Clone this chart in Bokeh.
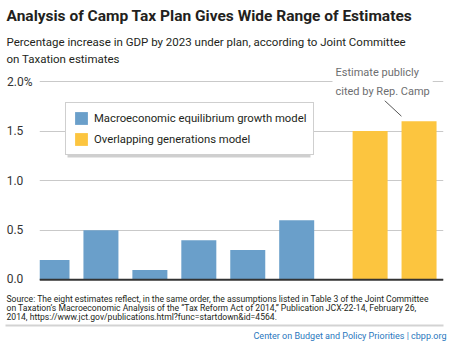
from bokeh.plotting import figure
from bokeh.layouts import column
from bokeh.models import ColumnDataSource, Label, Span, Range1d, FixedTicker, Legend, LegendItem, BoxAnnotation
from bokeh.embed import file_html
from bokeh.resources import INLINE

# ---- data ----
macro_values = [0.2, 0.5, 0.1, 0.4, 0.3, 0.6]
olg_values = [1.5, 1.6]
macro_label = "Macroeconomic equilibrium growth model"
olg_label = "Overlapping generations model"
y_ticks = [0.0, 0.5, 1.0, 1.5, 2.0]
y_tick_labels = ["0.0", "0.5", "1.0", "1.5", "2.0%"]

title_text = "Analysis of Camp Tax Plan Gives Wide Range of Estimates"
subtitle_lines = ["Percentage increase in GDP by 2023 under plan, according to Joint Committee",
                  "on Taxation estimates"]
note_text = "Estimate publicly\ncited by Rep. Camp"
source_lines = [
    "Source: The eight estimates reflect, in the same order, the assumptions listed in Table 3 of the Joint Committee",
    "on Taxation\u2019s Macroeconomic Analysis of the \u201cTax Reform Act of 2014,\u201d Publication JCX-22-14, February 26,",
    "2014, https://www.jct.gov/publications.html?func=startdown&id=4564.",
]
footer_text = "Center on Budget and Policy Priorities | cbpp.org"

# ---- layout constants (pixels) ----
W = 450
HEAD_H = 66
CHART_TOP, CHART_BOT = 66, 285
Y0_PX, Y2_PX = 279.3, 81.0          # canvas y of value 0 and of top tick
X_FIRST_PX, PPX = 51.5, 48.94       # canvas x of first bar centre, px per slot
FL, FR = 39, 443                    # frame left/right
PPU = (Y0_PX - Y2_PX) / (y_ticks[-1] - y_ticks[0])
FONT = "Roboto"
BLUE = "#6a9fca"
YELLOW = "#fcc53f"
DARK = "#231f20"
BASE_SHIFT = 0.33                   # empirical baseline correction (em)


def dx(cx):
    return (cx - X_FIRST_PX) / PPX


def dy(cy):
    return (Y0_PX - cy) / PPU


def text_fig(top, bottom):
    f = figure(width=W, height=bottom - top, output_backend="svg", toolbar_location=None,
               x_range=Range1d(0, W), y_range=Range1d(bottom, top),
               x_axis_location=None, y_axis_location=None,
               min_border_left=0, min_border_right=0, min_border_top=0, min_border_bottom=0,
               frame_align=False)
    f.grid.visible = False
    f.outline_line_color = None
    f.background_fill_color = "white"
    f.border_fill_color = "white"
    return f


def put(fig, x, baseline, text, size, **kw):
    fig.add_layout(Label(x=x, y=baseline - BASE_SHIFT * size, text=text, text_font=FONT,
                         text_font_size=f"{size}px", text_baseline="alphabetic", **kw))


# ---- header ----
head = text_fig(0, HEAD_H)
put(head, 6, 20.5, title_text, 15.5, text_font_style="bold", text_color=DARK)
for i, line in enumerate(subtitle_lines):
    put(head, 6, 45.5 + 16.5 * i, line, 11.5, text_color=DARK)

# ---- chart ----
macro_x = [i for i in range(len(macro_values))]
olg_x = [len(macro_values) + 0.5 + i for i in range(len(olg_values))]

p = figure(width=W, height=CHART_BOT - CHART_TOP, output_backend="svg", toolbar_location=None,
           x_range=Range1d(dx(FL), dx(FR)), y_range=Range1d(dy(CHART_BOT), dy(CHART_TOP)),
           x_axis_location=None, frame_align=False,
           min_border_left=FL, min_border_right=W - FR, min_border_top=0, min_border_bottom=0)
p.outline_line_color = None
p.background_fill_color = "white"
p.border_fill_color = "white"
p.xgrid.visible = False
p.ygrid.grid_line_color = "#c9c9c9"
p.ygrid.grid_line_width = 1
p.ygrid.ticker = FixedTicker(ticks=y_ticks)

yax = p.yaxis[0]
yax.ticker = FixedTicker(ticks=y_ticks)
pad = "\u2007\u2009"
yax.major_label_overrides = {t: (l if l.endswith("%") else l + pad) for t, l in zip(y_ticks, y_tick_labels)}
yax.axis_line_color = None
yax.major_tick_line_color = None
yax.minor_tick_line_color = None
yax.major_tick_out = 0
yax.major_tick_in = 0
yax.major_label_standoff = 7
yax.major_label_text_font = FONT
yax.major_label_text_font_size = "12px"
yax.major_label_text_color = "#333333"

src_m = ColumnDataSource(dict(x=macro_x, top=macro_values))
src_o = ColumnDataSource(dict(x=olg_x, top=olg_values))
BAR_W = 35 / PPX
r_m = p.vbar(x="x", top="top", bottom=0, width=BAR_W, source=src_m, fill_color=BLUE, line_color=None)
r_o = p.vbar(x="x", top="top", bottom=0, width=BAR_W, source=src_o, fill_color=YELLOW, line_color=None)

p.add_layout(Span(location=0, dimension="width", line_color="#333333", line_width=2))

# legend shadow + legend
p.add_layout(BoxAnnotation(left=dx(67), right=dx(310), top=dy(105), bottom=dy(157),
                           fill_color="#cfcfcf", fill_alpha=1.0, line_color=None))
legend = Legend(items=[LegendItem(label=macro_label, renderers=[r_m]),
                       LegendItem(label=olg_label, renderers=[r_o])],
                location=(65 - FL, CHART_BOT - 155), orientation="vertical",
                glyph_width=16, glyph_height=16, label_height=16, label_width=10,
                spacing=5, padding=7, margin=0, label_standoff=5,
                label_text_font=FONT, label_text_font_size="11.3px", label_text_color=DARK,
                border_line_color="#a0a0a0", border_line_width=1,
                background_fill_color="white", background_fill_alpha=1.0)
p.add_layout(legend, "center")

# annotation (label box top at canvas y 62.5)
p.add_layout(Label(x=332 - FL, y=CHART_BOT - 62.5, x_units="screen", y_units="screen",
                   text=note_text, text_font=FONT, text_font_size="11px", text_color="#6d6e70",
                   text_baseline="top", text_align="left", text_line_height=1.45,
                   background_fill_color="white", padding=3))
p.segment(x0=[olg_x[-1] - 0.73], y0=[olg_values[-1] + 0.22],
          x1=[olg_x[-1] - 0.36], y1=[olg_values[-1] + 0.05],
          line_color="#555555", line_width=1)

# ---- footer ----
FOOT_TOP, FOOT_BOT = CHART_BOT, 348
foot = text_fig(FOOT_TOP, FOOT_BOT)
for i, line in enumerate(source_lines):
    put(foot, 6, 301 + 9.2 * i, line, 8.6, text_color=DARK)
foot.add_layout(BoxAnnotation(left=5, right=443, top=324, bottom=326,
                              fill_color="#d3d3d3", fill_alpha=1.0, line_color=None))
put(foot, 446, 338, footer_text, 9, text_align="right", text_color="#2a77bd")

layout = column(head, p, foot, spacing=0)
open("out.html", "w").write(file_html(layout, INLINE))
